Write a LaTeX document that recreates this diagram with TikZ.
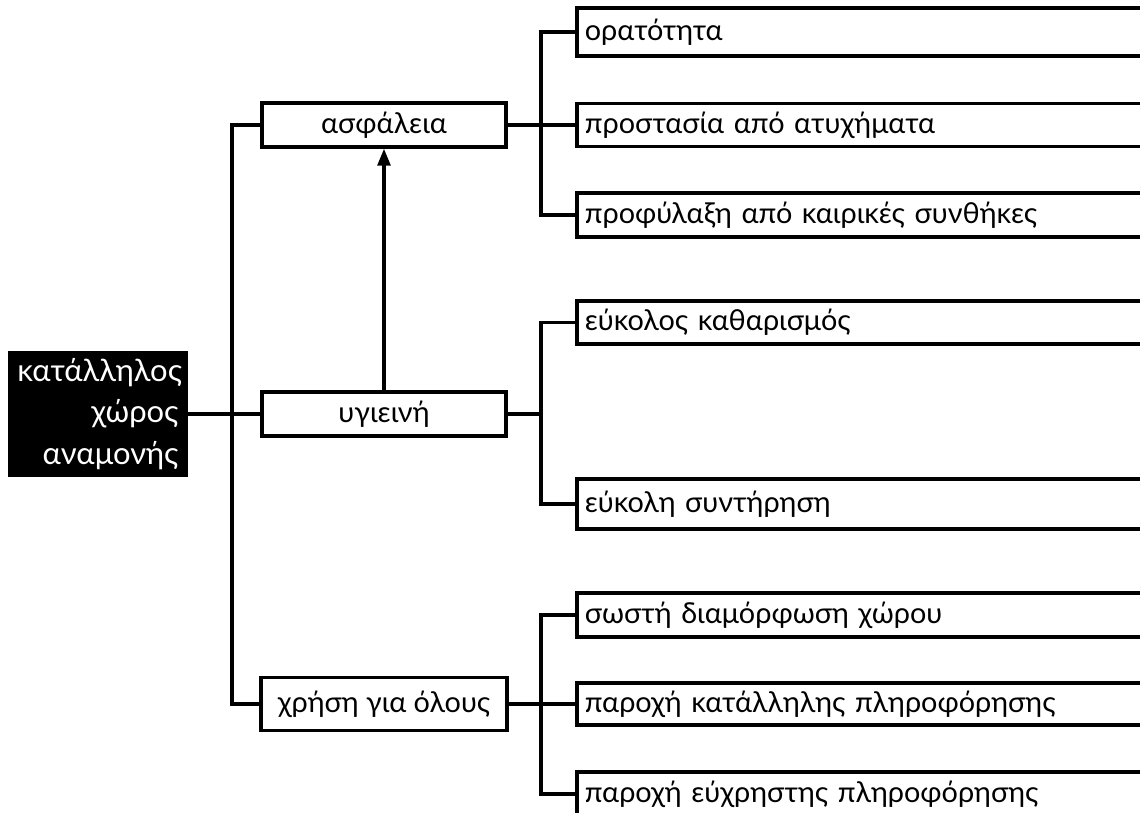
\documentclass[tikz,border=0pt]{standalone}
\usepackage{fontspec}
\setmainfont{Lato}
\usetikzlibrary{arrows.meta}

\tikzset{
    line/.style={line width=2.5pt},
    box/.style={draw, line width=2.5pt, inner sep=0pt, font=\fontsize{20.5}{24}\selectfont},
    midbox/.style={box, minimum width=6.1cm, minimum height=1.1cm},
    leafbox/.style={box, anchor=west, text width=14.6cm, inner xsep=0.2cm, align=left},
    rootbox/.style={fill=black, text=white, inner sep=0pt, minimum width=4.475cm,
        minimum height=3.125cm, text width=4.025cm, align=right,
        font=\fontsize{22}{29.5}\selectfont}
}

\begin{document}
\begin{tikzpicture}[x=0.025cm, y=-0.025cm]
    % picture frame (boxes on the right run off the page)
    \clip (0,0) rectangle (1140,813);

    % Root and middle level
    \node[rootbox] (root) at (98,414) {κατάλληλος\\χώρος\\αναμονής};
    \node[midbox] (asfaleia) at (384,125) {ασφάλεια};
    \node[midbox] (ygieini) at (384,414) {υγιεινή};
    \node[midbox, minimum width=6.15cm, minimum height=1.325cm] (xrisi) at (384,704) {χρήση για όλους};

    % Leaves
    \foreach \name/\ypos/\hgt/\label in {
        oratotita/32/1.2/ορατότητα,
        prostasia/125/1.075/προστασία από ατυχήματα,
        profylaxi/215/1.1/προφύλαξη από καιρικές συνθήκες,
        katharismos/322.5/1.075/εύκολος καθαρισμός,
        syntirisi/504/1.25/εύκολη συντήρηση,
        diamorfosi/615/1.1/σωστή διαμόρφωση χώρου,
        katallili/704/1.05/παροχή κατάλληλης πληροφόρησης,
        eyxristi/794/1.1/παροχή εύχρηστης πληροφόρησης} {
        \node[leafbox, minimum height=\hgt cm] (\name) at (575,\ypos) {\label};
    }

    % Trunk points
    \coordinate (trunk0) at (232,414);
    \coordinate (trunk1) at (541,125);
    \coordinate (trunk2) at (541,414);
    \coordinate (trunk3) at (541,704);

    % Connectors
    \draw[line] (root.east) -- (ygieini.west);
    \draw[line] (asfaleia.west) -| (trunk0) |- (xrisi.west);

    \draw[line] (asfaleia.east) -- (prostasia.west);
    \draw[line] (oratotita.west) -| (trunk1) |- (profylaxi.west);

    \draw[line] (ygieini.east) -- (trunk2);
    \draw[line] (katharismos.west) -| (trunk2) |- (syntirisi.west);

    \draw[line] (xrisi.east) -- (katallili.west);
    \draw[line] (diamorfosi.west) -| (trunk3) |- (eyxristi.west);

    \draw[line, line width=2.2pt, -{Triangle[length=0.42cm, width=0.32cm]}] (ygieini.north) -- (asfaleia.south);
\end{tikzpicture}
\end{document}
